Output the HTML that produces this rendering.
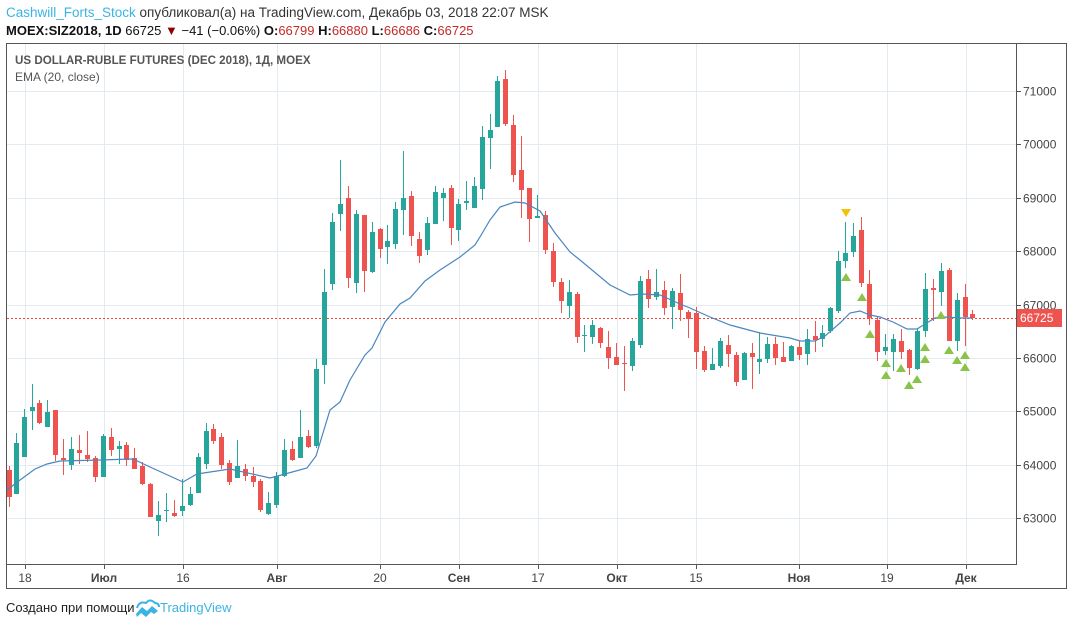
<!DOCTYPE html>
<html><head><meta charset="utf-8"><style>
body{margin:0;background:#fff;width:1073px;height:626px;overflow:hidden;font-family:"Liberation Sans",sans-serif}
svg{position:absolute;left:0;top:0}
</style></head><body>
<svg id="s" width="1073" height="626" xmlns="http://www.w3.org/2000/svg">
<text x="6" y="17" font-size="13.5" fill="#333"><tspan fill="#3BB3E4">Cashwill_Forts_Stock</tspan> опубликовал(а) на TradingView.com, Декабрь 03, 2018 22:07 MSK</text>
<text x="6" y="35" font-size="13" fill="#111" font-weight="bold">MOEX:SIZ2018, 1D <tspan font-weight="normal">66725</tspan> <tspan fill="#8b0000">▼</tspan><tspan font-weight="normal"> −41 (−0.06%) </tspan>O:<tspan fill="#c62828" font-weight="normal">66799</tspan> H:<tspan fill="#c62828" font-weight="normal">66880</tspan> L:<tspan fill="#c62828" font-weight="normal">66686</tspan> C:<tspan fill="#c62828" font-weight="normal">66725</tspan></text>
<g id="grid"></g>
<text x="15" y="64" font-size="11.6" fill="#555" font-weight="bold">US DOLLAR-RUBLE FUTURES (DEC 2018), 1Д, MOEX</text>
<text x="15" y="81" font-size="12" fill="#555">EMA (20, close)</text>
<g id="c"></g>
<rect x="6.5" y="43.5" width="1060" height="545" fill="none" stroke="#555"/>
<line x1="6" y1="564.5" x2="1016" y2="564.5" stroke="#555"/>
<line x1="1016.5" y1="43" x2="1016.5" y2="565" stroke="#555"/>
<rect x="1017" y="309" width="45" height="18" fill="#ef5350"/>
<text x="1020" y="322" font-size="12" fill="#fff">66725</text>
<text x="6" y="612" font-size="13" fill="#222">Создано при помощи</text>
<path d="M136 614 l6 -7 l5 4 l5 -5 l6 5 l-4 3 l-3 -2 l-5 5 l-5 -4 l-4 4z" fill="#3BB3E4"/>
<path d="M137 608 q2 -7 9 -5 q4 -5 9 0 q4 0 4 4" fill="none" stroke="#3BB3E4" stroke-width="2"/>
<text x="160" y="612" font-size="13" fill="#3BB3E4">TradingView</text>
</svg>
<script>
var NS="http://www.w3.org/2000/svg";
function el(p,t,a){var e=document.createElementNS(NS,t);for(var k in a)e.setAttribute(k,a[k]);p.appendChild(e);return e;}
var g=document.getElementById('grid'),c=document.getElementById('c');
var vx=[25,104,183,277,380,459,538,617,696,799,887,966];
var lab=["18","Июл","16","Авг","20","Сен","17","Окт","15","Ноя","19","Дек"];
vx.forEach(function(x,i){el(g,'line',{x1:x+.5,y1:44,x2:x+.5,y2:564,stroke:'#e3ebf1'});
el(g,'line',{x1:x+.5,y1:565,x2:x+.5,y2:569,stroke:'#555'});
var t=el(g,'text',{x:x,y:582,'font-size':12,fill:'#444','text-anchor':'middle','font-weight':(isNaN(lab[i])?'bold':'normal')});t.textContent=lab[i];});
for(var p=63000;p<=71000;p+=1000){var y=Math.round(91+(71000-p)*0.05338)+.5;
el(g,'line',{x1:7,y1:y,x2:1016,y2:y,stroke:'#e3ebf1'});
el(g,'line',{x1:1017,y1:y,x2:1021,y2:y,stroke:'#555'});
var t=el(g,'text',{x:1023,y:y+4,'font-size':12,fill:'#444'});t.textContent=p;}
var D=[[9,'r',470,497,466,507],[16,'g',443,494,433,494],[24,'g',417,457,409,457],[32,'g',407,411,384,430],[39,'r',403,423,400,424],[47,'g',412,427,400,427],[55,'r',410,455,410,461],[63,'r',458,460,439,475],[71,'g',449,465,437,470],[79,'r',450,453,435,464],[87,'r',455,459,431,462],[95,'r',458,477,456,482],[103,'g',436,477,434,477],[111,'r',437,450,428,456],[119,'g',446,449,441,464],[126,'r',445,460,442,466],[134,'r',458,469,448,469],[142,'r',466,484,462,485],[150,'r',484,517,483,517],[158,'g',515,521,501,536],[166,'g',510,511,493,522],[174,'r',513,516,500,517],[182,'g',506,511,479,516],[190,'g',494,505,487,506],[198,'g',457,493,453,493],[206,'g',431,464,423,469],[213,'r',429,441,424,444],[221,'r',437,465,433,469],[229,'r',463,482,460,485],[237,'g',466,478,440,478],[245,'r',469,476,464,481],[253,'r',476,482,467,487],[260,'r',481,510,479,512],[268,'g',503,514,492,515],[276,'g',476,505,472,508],[284,'g',450,476,439,477],[292,'r',449,460,441,461],[300,'g',437,458,410,458],[308,'r',436,447,430,448],[316,'g',369,446,359,448],[324,'g',292,365,269,384],[332,'g',222,284,213,290],[340,'g',204,214,160,231],[348,'r',198,278,186,288],[356,'g',214,283,210,293],[364,'r',215,271,215,292],[372,'g',232,272,222,273],[380,'r',229,249,228,258],[387,'g',241,247,225,264],[395,'g',209,244,202,249],[403,'g',198,210,151,235],[411,'r',196,236,191,246],[419,'r',239,256,232,263],[427,'g',223,250,217,255],[435,'g',192,224,186,224],[443,'g',193,198,188,221],[451,'r',188,228,185,245],[458,'g',204,230,199,241],[466,'g',201,203,181,210],[474,'g',186,208,177,208],[482,'g',137,189,126,200],[490,'g',130,138,114,169],[497,'g',81,127,76,127],[505,'r',79,124,70,126],[513,'r',125,175,115,182],[521,'r',170,190,136,218],[529,'r',188,219,188,242],[537,'g',216,218,195,218],[545,'r',215,250,211,254],[553,'r',251,282,243,287],[561,'r',282,301,278,313],[569,'g',292,306,280,318],[577,'r',294,337,292,343],[584,'g',335,336,325,352],[592,'g',325,337,320,344],[600,'r',328,343,327,348],[608,'r',347,358,331,369],[616,'r',357,365,343,365],[624,'r',363,364,346,391],[632,'g',341,366,338,371],[640,'g',281,345,276,348],[648,'r',279,299,270,308],[656,'g',292,297,269,300],[664,'r',290,308,281,315],[672,'g',291,307,288,329],[680,'r',293,310,274,321],[688,'r',312,319,310,338],[696,'r',313,352,307,369],[704,'r',351,370,346,372],[712,'g',364,370,348,370],[720,'g',341,366,338,368],[728,'r',345,354,335,367],[736,'r',355,382,352,386],[744,'g',353,380,352,380],[752,'r',353,357,343,389],[759,'g',359,362,332,374],[767,'g',344,359,337,363],[775,'r',344,358,337,365],[783,'r',357,362,342,362],[791,'g',346,361,345,361],[799,'r',347,355,341,360],[807,'g',339,354,329,365],[815,'r',336,340,321,352],[822,'g',333,339,325,347],[830,'g',308,331,307,333],[838,'g',261,311,251,313],[845,'g',253,261,222,268],[853,'g',236,252,223,257],[861,'r',230,283,217,287],[869,'r',284,318,270,325],[877,'r',320,352,316,361],[885,'g',347,351,334,355],[893,'g',339,352,334,371],[901,'r',341,352,329,359],[909,'r',350,368,349,375],[917,'g',331,369,328,370],[925,'g',289,331,273,337],[933,'r',288,290,279,321],[941,'g',271,292,263,306],[949,'r',270,341,268,341],[957,'g',300,341,293,351],[965,'r',297,317,284,346],[972,'r',314,318,310,320]];
var ema=[[7,490],[20,480],[35,469],[47,464],[60,461],[100,460],[133,459],[150,467],[183,482],[197,474],[230,469],[270,478],[285,474],[307,468],[316,456],[330,410],[340,402],[350,380],[365,355],[372,348],[385,322],[400,304],[410,298],[425,281],[440,270],[460,257],[475,245],[480,237],[490,220],[500,207],[515,202],[525,203],[540,211],[555,233],[570,252],[580,260],[610,285],[630,295],[642,294],[660,295],[680,304],[690,308],[710,317],[730,325],[760,333],[790,338],[800,341],[815,341],[825,336],[840,323],[850,313],[860,311],[870,315],[880,317],[893,322],[907,329],[917,329],[925,324],[935,318],[945,317],[960,318],[972,318]];
el(c,'line',{x1:7,y1:318.5,x2:1016,y2:318.5,stroke:'#f44336','stroke-dasharray':'2,2'});
D.forEach(function(d){var col=d[1]=='g'?'#26a69a':'#ef5350';
el(c,'line',{x1:d[0]+.5,y1:d[4],x2:d[0]+.5,y2:d[5],stroke:col});
el(c,'rect',{x:d[0]-2,y:d[2],width:5,height:Math.max(1,d[3]-d[2]),fill:col});});
el(c,'polyline',{points:ema.map(function(p){return p.join(',')}).join(' '),fill:'none',stroke:'#4a86c0','stroke-width':1.2});
[[846,277],[862,297],[870,334],[886,363],[886,375],[901,368],[909,385],[917,379],[925,347],[925,359],[941,315],[949,350],[957,360],[965,355],[965,367]].forEach(function(t){
el(c,'path',{d:'M'+(t[0]-5)+' '+(t[1]+4)+' L'+t[0]+' '+(t[1]-4)+' L'+(t[0]+5)+' '+(t[1]+4)+'Z',fill:'#8bc34a'});});
el(c,'path',{d:'M841 209 L851 209 L846 217Z',fill:'#f4c20d'});
</script>
</body></html>
